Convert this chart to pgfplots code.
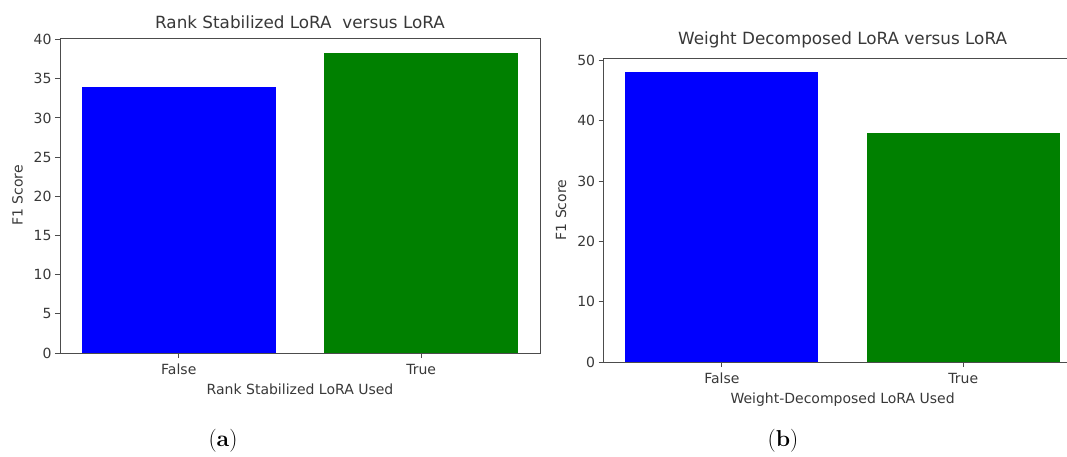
\documentclass[border=0pt]{standalone}
\usepackage{fontspec}
\setmainfont{DejaVu Sans}
\newfontfamily\capfont{Latin Modern Roman}
\usepackage{pgfplots}
\pgfplotsset{compat=1.18}

\definecolor{barblue}{RGB}{0,0,255}
\definecolor{bargreen}{RGB}{0,128,0}
\definecolor{txt}{gray}{0.22}
\definecolor{spine}{gray}{0.3}

\pgfplotsset{
  panel/.style={
    scale only axis,
    xmin=-0.49, xmax=1.49,
    xtick={0,1}, xticklabels={False,True},
    ymin=0,
    axis line style={spine, line width=0.9pt},
    tick style={spine, line width=0.9pt},
    tick align=outside, major tick length=5pt,
    xtick pos=left, ytick pos=left,
    minor tick num=0,
    tick label style={font=\fontsize{14}{16}\selectfont, text=txt},
    xticklabel style={yshift=-2.5pt},
    label style={font=\fontsize{14}{16}\selectfont, text=txt},
    xlabel style={yshift=-2.5pt},
    ylabel shift=4pt,
    title style={font=\fontsize{16.8}{19}\selectfont, text=txt},
    /pgf/number format/assume math mode=true,
    ybar, bar width=0.8,
  },
  colbar/.style={fill=#1, draw=none, bar shift=0pt},
}

\begin{document}
\begin{tikzpicture}
\useasboundingbox (0pt,0pt) rectangle (1067pt,456pt);

% (a) rank-stabilized LoRA
\begin{axis}[panel,
  at={(60pt,103pt)}, anchor=south west,
  width=480pt, height=315pt,
  ymax=40.2, ytick={0,5,...,40},
  title={Rank Stabilized LoRA\ \ versus LoRA},
  xlabel={Rank Stabilized LoRA Used},
  ylabel={F1 Score},
]
\addplot[colbar=barblue] coordinates {(0,34.0)};
\addplot[colbar=bargreen] coordinates {(1,38.3)};
\end{axis}

% (b) weight-decomposed LoRA
\begin{axis}[panel,
  at={(603.6pt,94pt)}, anchor=south west,
  width=478pt, height=304pt,
  ymax=50.4, ytick={0,10,...,50},
  title={Weight Decomposed LoRA versus LoRA},
  xlabel={Weight-Decomposed LoRA Used},
  ylabel={F1 Score},
]
\addplot[colbar=barblue] coordinates {(0,48.0)};
\addplot[colbar=bargreen] coordinates {(1,38.0)};
\end{axis}

\node[font=\capfont\fontsize{23}{27}\selectfont] at (223pt,15pt) {(\textbf{a})};
\node[font=\capfont\fontsize{23}{27}\selectfont] at (783pt,15pt) {(\textbf{b})};
\end{tikzpicture}
\end{document}
